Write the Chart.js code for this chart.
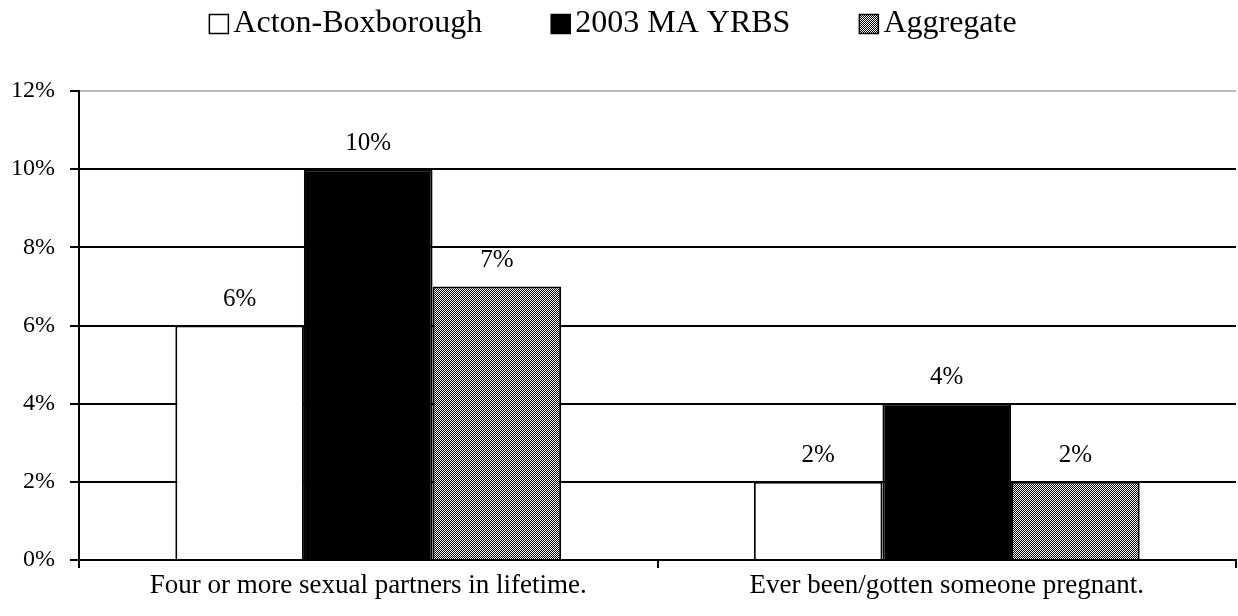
<!DOCTYPE html>
<html lang="en">
<head>
    <meta charset="UTF-8">
    <title>Sexual Behavior</title>
    <style>
        body { margin: 0; background: #fff; }
        #wrap { width: 1238px; height: 616px; }
    </style>
</head>
<body>
    <div id="wrap"><canvas id="chart" width="1238" height="616"></canvas></div>
    <script src="https://cdn.jsdelivr.net/npm/chart.js"></script>
    <script>
        const categories = ['Four or more sexual partners in lifetime.', 'Ever been/gotten someone pregnant.'];
        const actonBoxborough = [6, 2];
        const maYrbs2003 = [10, 4];
        const aggregate = [7, 2];
        const yTicks = [0, 2, 4, 6, 8, 10, 12];

        // fine diagonal hatch for the aggregate bars
        function hatch() {
            const c = document.createElement('canvas');
            c.width = 4; c.height = 4;
            const g = c.getContext('2d');
            g.fillStyle = '#fff';
            g.fillRect(0, 0, 4, 4);
            g.fillStyle = '#000';
            for (let i = 0; i < 4; i++) {
                g.fillRect(i, 3 - i, 1, 1);
                g.fillRect((i + 2) % 4, 3 - i, 1, 1);
            }
            return g.createPattern(c, 'repeat');
        }

        const serif = '"Liberation Serif", "Times New Roman", serif';

        const valueLabels = {
            id: 'valueLabels',
            afterDatasetsDraw(chart) {
                const ctx = chart.ctx;
                ctx.save();
                ctx.font = '25px ' + serif;
                ctx.fillStyle = '#000';
                ctx.textAlign = 'center';
                ctx.textBaseline = 'middle';
                chart.data.datasets.forEach((ds, i) => {
                    chart.getDatasetMeta(i).data.forEach((bar, j) => {
                        ctx.fillText(ds.data[j] + '%', bar.x, bar.y - 26);
                    });
                });
                ctx.restore();
            }
        };

        // legend drawn by hand: small box right against the text, wide gaps between items
        const topLegend = {
            id: 'topLegend',
            afterDraw(chart) {
                const ctx = chart.ctx;
                const box = 19, gap = 5, spacing = 69, y = 24;
                ctx.save();
                ctx.font = '32px ' + serif;
                const items = chart.data.datasets.map(ds => ({ ds, w: ctx.measureText(ds.label).width }));
                let total = items.reduce((s, it) => s + box + gap + it.w, 0) + spacing * (items.length - 1);
                let x = chart.width / 2 - total / 2 - 6;
                items.forEach(it => {
                    ctx.fillStyle = it.ds.backgroundColor;
                    ctx.fillRect(x, y - box / 2, box, box);
                    ctx.strokeStyle = '#000';
                    ctx.lineWidth = 1.5;
                    ctx.strokeRect(x, y - box / 2, box, box);
                    ctx.fillStyle = '#000';
                    ctx.textAlign = 'left';
                    ctx.textBaseline = 'middle';
                    ctx.fillText(it.ds.label, x + box + gap, y);
                    x += box + gap + it.w + spacing;
                });
                ctx.restore();
            }
        };

        new Chart(document.getElementById('chart'), {
            type: 'bar',
            data: {
                labels: categories,
                datasets: [
                    { label: 'Acton-Boxborough', data: actonBoxborough, backgroundColor: '#fff', borderColor: '#000', borderWidth: 2 },
                    { label: '2003 MA YRBS', data: maYrbs2003, backgroundColor: '#000', borderColor: '#000', borderWidth: 2 },
                    { label: 'Aggregate', data: aggregate, backgroundColor: hatch(), borderColor: '#000', borderWidth: 2 }
                ]
            },
            options: {
                responsive: false,
                animation: false,
                categoryPercentage: 0.667,
                barPercentage: 1,
                layout: { padding: { top: 91, right: 2, bottom: 0, left: 0 } },
                plugins: {
                    tooltip: { enabled: false },
                    legend: { display: false }
                },
                scales: {
                    x: {
                        offset: true,
                        afterFit(axis) { axis.height = 56; },
                        border: { color: '#000', width: 2 },
                        grid: { offset: true, drawOnChartArea: false, drawTicks: true, tickLength: 8, color: '#000', lineWidth: 2 },
                        ticks: { color: '#000', font: { family: serif, size: 27 }, padding: 2 }
                    },
                    y: {
                        min: 0,
                        max: 12,
                        afterFit(axis) { axis.width = 79; },
                        afterBuildTicks(axis) { axis.ticks = yTicks.map(v => ({ value: v })); },
                        border: { color: '#000', width: 2 },
                        grid: {
                            color: ctx => ctx.tick && ctx.tick.value === 12 ? '#bdbdbd' : '#000',
                            tickColor: '#000',
                            lineWidth: 2,
                            tickLength: 9
                        },
                        ticks: { color: '#000', font: { family: serif, size: 24 }, padding: 15, callback: v => v + '%' }
                    }
                }
            },
            plugins: [valueLabels, topLegend]
        });
    </script>
</body>
</html>
